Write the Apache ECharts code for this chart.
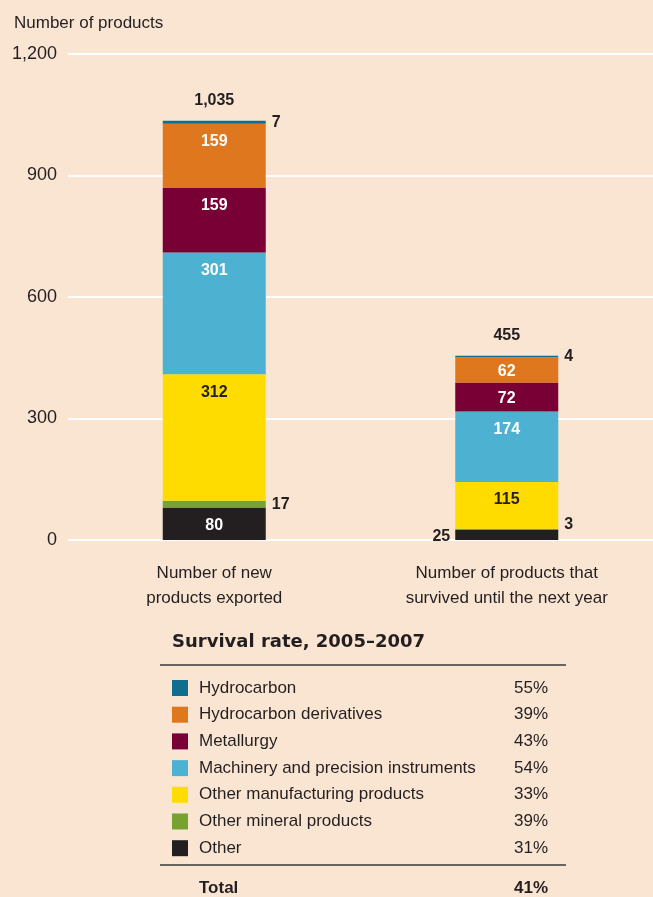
<!DOCTYPE html>
<html>
<head>
<meta charset="utf-8">
<script src="https://cdn.jsdelivr.net/npm/echarts@6/dist/echarts.min.js"></script>
<style>
  html, body { margin: 0; padding: 0; background: #fae5d3; }
  #chart { width: 653px; height: 897px; }
</style>
</head>
<body>
<div id="chart"></div>
<script>
// data
const categories = ['Number of new\nproducts exported', 'Number of products that\nsurvived until the next year'];
const other = [80, 25];
const otherMineral = [17, 3];
const otherManufacturing = [312, 115];
const machinery = [301, 174];
const metallurgy = [159, 72];
const hydroDerivatives = [159, 62];
const hydrocarbon = [7, 4];
const yTicks = [0, 300, 600, 900, 1200];

// survival table (legend order)
const legendNames = ['Hydrocarbon', 'Hydrocarbon derivatives', 'Metallurgy', 'Machinery and precision instruments',
  'Other manufacturing products', 'Other mineral products', 'Other'];
const survivalRates = ['55%', '39%', '43%', '54%', '33%', '39%', '31%'];
const totalRate = '41%';

const colors = {
  'Hydrocarbon': '#0e6f8c',
  'Hydrocarbon derivatives': '#df771e',
  'Metallurgy': '#780035',
  'Machinery and precision instruments': '#4db2d2',
  'Other manufacturing products': '#ffdc00',
  'Other mineral products': '#77a22f',
  'Other': '#231f20'
};
const dark = '#231f20';
const font = '"Liberation Sans", Arial, sans-serif';

// stack from bottom up
const stack = [
  ['Other', other],
  ['Other mineral products', otherMineral],
  ['Other manufacturing products', otherManufacturing],
  ['Machinery and precision instruments', machinery],
  ['Metallurgy', metallurgy],
  ['Hydrocarbon derivatives', hydroDerivatives],
  ['Hydrocarbon', hydrocarbon]
];
const totals = categories.map((c, i) => stack.reduce((s, [, arr]) => s + arr[i], 0));

const insideLabel = (color) => ({
  show: true, position: 'insideTop', distance: 10, color: color,
  fontFamily: font, fontWeight: 'bold', fontSize: 16
});
const sideLabel = (pos, extra) => Object.assign({
  show: true, position: pos, distance: 6, color: dark,
  fontFamily: font, fontWeight: 'bold', fontSize: 16
}, extra || {});

// label placement per series / bar
const labelFor = {
  'Other': [insideLabel('#fff'), sideLabel('left', { distance: 5, offset: [0, 2] })],
  'Other mineral products': [sideLabel('right'), sideLabel('right', { offset: [0, -5] })],
  'Other manufacturing products': [insideLabel(dark), insideLabel(dark)],
  'Machinery and precision instruments': [insideLabel('#fff'), insideLabel('#fff')],
  'Metallurgy': [insideLabel('#fff'), sideLabel('inside', { color: '#fff', offset: [0, 2] })],
  'Hydrocarbon derivatives': [insideLabel('#fff'), sideLabel('inside', { color: '#fff', offset: [0, 2] })],
  'Hydrocarbon': [sideLabel('right'), sideLabel('right')]
};

const series = stack.map(([name, arr]) => ({
  name: name,
  type: 'bar',
  stack: 'total',
  barWidth: 103,
  itemStyle: { color: colors[name] },
  data: arr.map((v, i) => ({ value: v, label: labelFor[name][i] }))
}));

series.push({
  name: 'Total',
  type: 'scatter',
  symbolSize: 0,
  itemStyle: { opacity: 1 },
  data: totals,
  label: {
    show: true, position: 'top', distance: 12, color: dark,
    fontFamily: font, fontWeight: 'bold', fontSize: 16,
    formatter: p => p.value.toLocaleString('en-US')
  },
  z: 5
});

// survival rate table
const graphics = [];
const tx = 172, textX = 199, rightX = 548;
graphics.push({
  type: 'text', left: tx, top: 633,
  style: { text: 'Survival rate, 2005\u20132007', font: '900 18px "DejaVu Sans", sans-serif', fill: dark }
});
graphics.push({ type: 'line', shape: { x1: 160, y1: 665, x2: 566, y2: 665 }, style: { stroke: '#3a3a3a', lineWidth: 1.5 } });
graphics.push({ type: 'line', shape: { x1: 160, y1: 865, x2: 566, y2: 865 }, style: { stroke: '#3a3a3a', lineWidth: 1.5 } });
legendNames.forEach((name, i) => {
  const y = 688 + i * 26.7;
  graphics.push({ type: 'rect', shape: { x: tx, y: y - 8, width: 16, height: 16 }, style: { fill: colors[name] } });
  graphics.push({
    type: 'text', x: textX, y: y,
    style: { text: name, font: '17px ' + font, fill: dark, verticalAlign: 'middle' }
  });
  graphics.push({
    type: 'text', x: rightX, y: y,
    style: { text: survivalRates[i], font: '17px ' + font, fill: dark, align: 'right', verticalAlign: 'middle' }
  });
});
graphics.push({ type: 'text', x: textX, y: 888, style: { text: 'Total', font: 'bold 17px ' + font, fill: dark, verticalAlign: 'middle' } });
graphics.push({ type: 'text', x: rightX, y: 888, style: { text: totalRate, font: 'bold 17px ' + font, fill: dark, align: 'right', verticalAlign: 'middle' } });

const chart = echarts.init(document.getElementById('chart'));
chart.setOption({
  backgroundColor: '#fae5d3',
  animation: false,
  title: {
    text: 'Number of products', left: 9, top: 10,
    textStyle: { fontFamily: font, fontWeight: 'normal', fontSize: 17, color: dark }
  },
  grid: { left: 68, right: 0, top: 54, bottom: 357, containLabel: false },
  xAxis: {
    type: 'category',
    data: categories,
    axisLine: { show: false },
    axisTick: { show: false },
    axisLabel: { fontFamily: font, fontSize: 17, color: dark, lineHeight: 25, margin: 21 }
  },
  yAxis: {
    type: 'value',
    min: yTicks[0], max: yTicks[yTicks.length - 1], interval: 300,
    axisLine: { show: false },
    axisTick: { show: false },
    splitLine: { lineStyle: { color: '#ffffff', width: 2 } },
    axisLabel: {
      fontFamily: font, fontSize: 18, color: dark, margin: 11,
      formatter: v => v.toLocaleString('en-US')
    }
  },
  series: series,
  graphic: graphics
});
</script>
</body>
</html>
